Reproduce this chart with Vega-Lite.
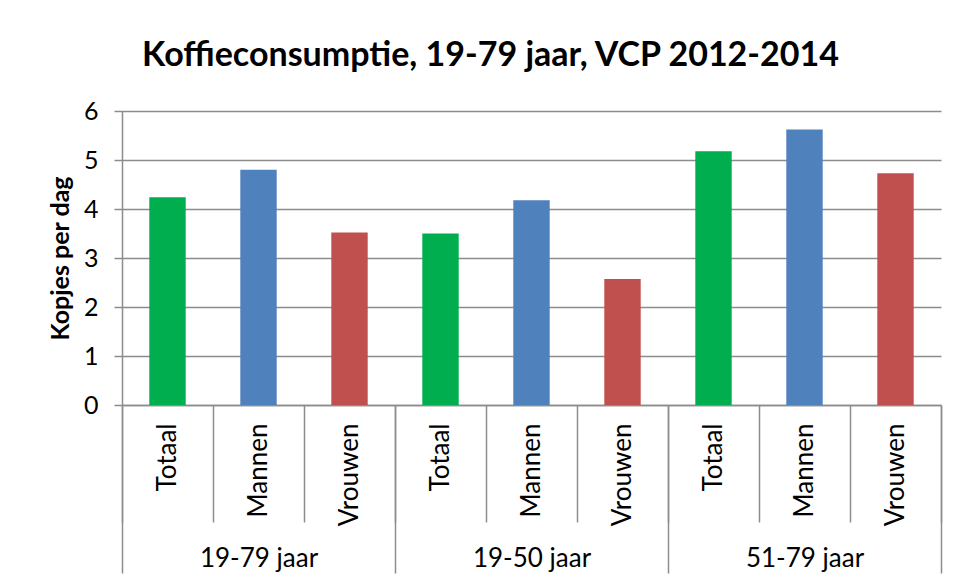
{
  "$schema": "https://vega.github.io/schema/vega-lite/v6.json",
  "width": 819,
  "height": 294,
  "autosize": {"type": "none"},
  "padding": {"left": 122, "top": 111, "right": 15, "bottom": 175},
  "background": "white",
  "title": {
    "text": "Koffieconsumptie, 19-79 jaar, VCP 2012-2014",
    "font": "Lato",
    "fontSize": 34,
    "fontWeight": "bold",
    "color": "black",
    "anchor": "middle",
    "baseline": "alphabetic",
    "dx": -41,
    "offset": -456
  },
  "config": {
    "view": {"stroke": null},
    "font": "Lato"
  },
  "data": {
    "values": [
      {"group": "19-79 jaar", "sex": "Totaal", "key": "19-79 jaar|Totaal", "value": 4.24},
      {"group": "19-79 jaar", "sex": "Mannen", "key": "19-79 jaar|Mannen", "value": 4.80},
      {"group": "19-79 jaar", "sex": "Vrouwen", "key": "19-79 jaar|Vrouwen", "value": 3.52},
      {"group": "19-50 jaar", "sex": "Totaal", "key": "19-50 jaar|Totaal", "value": 3.50},
      {"group": "19-50 jaar", "sex": "Mannen", "key": "19-50 jaar|Mannen", "value": 4.18},
      {"group": "19-50 jaar", "sex": "Vrouwen", "key": "19-50 jaar|Vrouwen", "value": 2.57},
      {"group": "51-79 jaar", "sex": "Totaal", "key": "51-79 jaar|Totaal", "value": 5.18},
      {"group": "51-79 jaar", "sex": "Mannen", "key": "51-79 jaar|Mannen", "value": 5.62},
      {"group": "51-79 jaar", "sex": "Vrouwen", "key": "51-79 jaar|Vrouwen", "value": 4.73}
    ]
  },
  "layer": [
    {
      "mark": {"type": "bar", "width": {"band": 0.4}},
      "encoding": {
        "x": {
          "field": "key",
          "type": "nominal",
          "sort": null,
          "scale": {"paddingInner": 0, "paddingOuter": 0},
          "axis": {
            "title": null,
            "orient": "bottom",
            "labelExpr": "split(datum.value, '|')[1]",
            "labelAngle": 270,
            "labelAlign": "right",
            "labelBaseline": "middle",
            "labelFont": "Lato",
            "labelFontSize": 26,
            "labelColor": "black",
            "labelOverlap": false,
            "labelPadding": -99,
            "tickBand": "extent",
            "tickSize": 117,
            "tickColor": "#8c8c8c",
            "tickWidth": 1.5,
            "domainColor": "#8c8c8c",
            "domainWidth": 1.5
          }
        },
        "y": {
          "field": "value",
          "type": "quantitative",
          "scale": {"domain": [0, 6]},
          "axis": {
            "title": "Kopjes per dag",
            "titleFont": "Lato",
            "titleFontSize": 25,
            "titleFontWeight": "bold",
            "titleColor": "black",
            "titlePadding": 10,
            "values": [0, 1, 2, 3, 4, 5, 6],
            "labelFont": "Lato",
            "labelFontSize": 25,
            "labelColor": "black",
            "labelPadding": 16,
            "tickSize": 8,
            "tickColor": "#8c8c8c",
            "tickWidth": 1.5,
            "domainColor": "#8c8c8c",
            "domainWidth": 1.5,
            "grid": true,
            "gridColor": "#8c8c8c",
            "gridWidth": 1.5
          }
        },
        "color": {
          "field": "sex",
          "type": "nominal",
          "scale": {"domain": ["Totaal", "Mannen", "Vrouwen"], "range": ["#00AE4F", "#4F81BD", "#C0504D"]},
          "legend": null
        }
      }
    },
    {
      "mark": {"type": "bar", "opacity": 0},
      "encoding": {
        "x": {
          "field": "group",
          "type": "nominal",
          "sort": null,
          "scale": {"paddingInner": 0, "paddingOuter": 0},
          "axis": {
            "title": null,
            "orient": "bottom",
            "labelAngle": 0,
            "labelAlign": "center",
            "labelBaseline": "middle",
            "labelFont": "Lato",
            "labelFontSize": 26,
            "labelColor": "black",
            "labelPadding": -15,
            "tickBand": "extent",
            "tickSize": 168,
            "tickColor": "#8c8c8c",
            "tickWidth": 1.5,
            "domain": false
          }
        },
        "y": {"field": "value", "type": "quantitative"}
      }
    }
  ],
  "resolve": {"scale": {"x": "independent"}}
}
